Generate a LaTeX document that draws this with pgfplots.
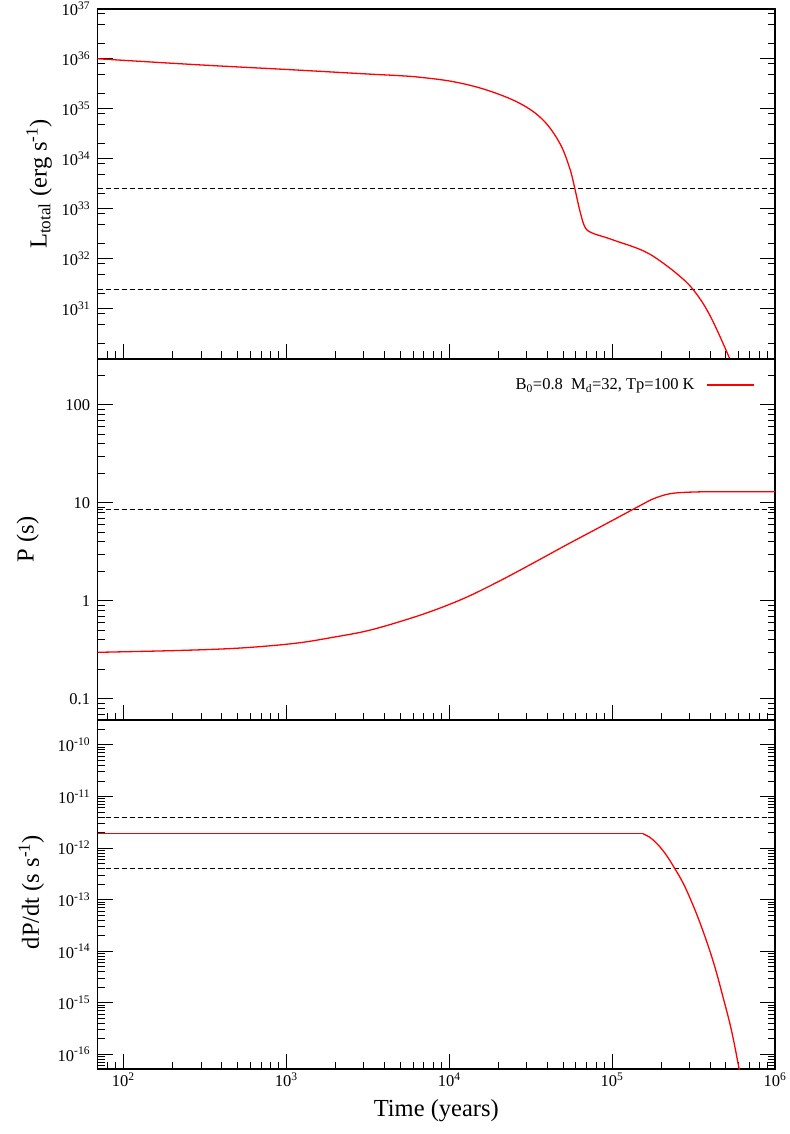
\documentclass[border=0pt]{standalone}
\usepackage{fontspec}
\setmainfont{Liberation Serif}
\usepackage{pgfplots}
\pgfplotsset{compat=1.18}

\pgfplotsset{
  panel/.style={
    scale only axis, width=677.4pt,
    xmin=69.5, xmax=1e6,
    xtick={100,1000,10000,100000,1000000},
    minor xtick={80,90,200,300,400,500,600,700,800,900,
      2000,3000,4000,5000,6000,7000,8000,9000,
      20000,30000,40000,50000,60000,70000,80000,90000,
      200000,300000,400000,500000,600000,700000,800000,900000},
    xtick pos=bottom, ytick pos=both, tick align=inside,
    major tick length=15pt, minor tick length=7.5pt,
    every tick/.style={black, line width=1pt},
    axis line style={line width=1.6pt},
    tick label style={font=\fontsize{16.5}{18}\selectfont},
    yticklabel style={xshift=-4pt},
    label style={font=\fontsize{24.5}{28}\selectfont},
  },
  redline/.style={red, line width=1.3pt, smooth, tension=0.6},
  refline/.style={black, line width=0.9pt, dash pattern=on 5pt off 3pt},
}

\begin{document}
\begin{tikzpicture}
\useasboundingbox (0,0) rectangle (789pt,1134pt);

% L_total
\begin{loglogaxis}[panel, at={(97.6pt,775pt)}, anchor=south west, height=350pt,
    ymin=1e30, ymax=1e37,
    ytick={1e31,1e32,1e33,1e34,1e35,1e36,1e37},
    yticklabels={10\textsuperscript{31},10\textsuperscript{32},10\textsuperscript{33},
      10\textsuperscript{34},10\textsuperscript{35},10\textsuperscript{36},10\textsuperscript{37}},
    minor ytick={2e30,5e30,8e30,2e31,5e31,8e31,2e32,5e32,8e32,2e33,5e33,8e33,
      2e34,5e34,8e34,2e35,5e35,8e35,2e36,5e36,8e36},
    xticklabels={},
    ylabel={L\textsubscript{total} (erg s\textsuperscript{-1})},
    ylabel style={at={(axis description cs:-0.0865,0.5)}, anchor=center},
]
\addplot[refline] coordinates {(69.5,2.6e33) (1e6,2.6e33)};
\addplot[refline] coordinates {(69.5,2.5e31) (1e6,2.5e31)};
\addplot[redline] coordinates {
  (69.5,1.01e36) (300,7.59e35) (1000,6.17e35) (3000,5.05e35) (4977,4.63e35)
  (6607,4.31e35) (10570,3.52e35) (16940,2.40e35) (27100,1.30e35)
  (37670,6.03e34) (47750,2.06e34) (54950,6.52e33) (59020,2.59e33)
  (63240,9.55e32) (67920,4.43e32) (74650,3.36e32) (92260,2.67e32)
  (111400,2.16e32) (134300,1.76e32) (158500,1.41e32) (187100,1.03e32)
  (247700,5.18e31) (313300,2.48e31) (397200,7.59e30) (526000,1.03e30)
  (575000,4.5e29)
};
\end{loglogaxis}

% P
\begin{loglogaxis}[panel, at={(97.6pt,414pt)}, anchor=south west, height=361pt,
    ymin=0.061, ymax=294,
    ytick={0.1,1,10,100},
    yticklabels={0.1,1,10,100},
    minor ytick={0.07,0.08,0.09,0.2,0.3,0.4,0.5,0.6,0.7,0.8,0.9,
      2,3,4,5,6,7,8,9,20,30,40,50,60,70,80,90,200},
    xticklabels={},
    ylabel={P (s)},
    ylabel style={at={(axis description cs:-0.103,0.5)}, anchor=center},
    legend plot pos=right,
    legend style={draw=none, fill=none, at={(0.975,0.928)}, anchor=east,
      font=\fontsize{16.5}{18}\selectfont},
    legend image code/.code={\path (0pt,0pt); \draw[#1, sharp plot] (10pt,0pt) -- (57pt,0pt);},
]
\addplot[refline, forget plot] coordinates {(69.5,8.5) (1e6,8.5)};
\addplot[redline] coordinates {
  (69.5,0.299) (199.5,0.311) (412,0.324) (708,0.343) (1216,0.375)
  (1941,0.426) (3112,0.494) (4977,0.615) (7962,0.796) (12760,1.09)
  (20420,1.60) (32730,2.43) (52480,3.73) (83950,5.65) (131200,8.41)
  (151400,9.55) (174200,10.8) (199500,11.75) (223900,12.36) (263000,12.74)
  (348300,12.97) (501000,13.0) (1e6,13.0)
};
\addlegendentry{B\textsubscript{0}=0.8\ \ M\textsubscript{d}=32, Tp=100 K}
\end{loglogaxis}

% dP/dt
\begin{loglogaxis}[panel, at={(97.6pt,65pt)}, anchor=south west, height=349pt,
    ymin=5.2e-17, ymax=3.05e-10,
    ytick={1e-16,1e-15,1e-14,1e-13,1e-12,1e-11,1e-10},
    yticklabels={10\textsuperscript{-16},10\textsuperscript{-15},10\textsuperscript{-14},
      10\textsuperscript{-13},10\textsuperscript{-12},10\textsuperscript{-11},10\textsuperscript{-10}},
    minor ytick={6e-17,7e-17,8e-17,9e-17,
      2e-16,3e-16,4e-16,5e-16,6e-16,7e-16,8e-16,9e-16,
      2e-15,3e-15,4e-15,5e-15,6e-15,7e-15,8e-15,9e-15,
      2e-14,3e-14,4e-14,5e-14,6e-14,7e-14,8e-14,9e-14,
      2e-13,3e-13,4e-13,5e-13,6e-13,7e-13,8e-13,9e-13,
      2e-12,3e-12,4e-12,5e-12,6e-12,7e-12,8e-12,9e-12,
      2e-11,3e-11,4e-11,5e-11,6e-11,7e-11,8e-11,9e-11,
      2e-10,3e-10},
    xticklabels={10\textsuperscript{2},10\textsuperscript{3},10\textsuperscript{4},
      10\textsuperscript{5},10\textsuperscript{6}},
    xlabel={Time (years)},
    xlabel style={at={(axis description cs:0.5,-0.12)}, anchor=center},
    ylabel={dP/dt (s s\textsuperscript{-1})},
    ylabel style={at={(axis description cs:-0.098,0.507)}, anchor=center},
]
\addplot[refline] coordinates {(69.5,4e-12) (1e6,4e-12)};
\addplot[refline] coordinates {(69.5,4e-13) (1e6,4e-13)};
% flat part
\addplot[red, line width=1.3pt] coordinates {(69.5,1.9e-12) (155000,1.9e-12)};
% decline
\addplot[redline] coordinates {
  (155000,1.9e-12) (165000,1.72e-12) (176000,1.5e-12) (196000,1.07e-12)
  (218000,6.9e-13) (242000,4.06e-13) (264000,2.55e-13) (286000,1.54e-13)
  (329000,5.43e-14) (378000,1.65e-14) (427000,5.0e-15) (479000,1.31e-15)
  (540000,2.95e-16) (601000,5.4e-17) (620000,3e-17)
};
\end{loglogaxis}
\end{tikzpicture}
\end{document}
